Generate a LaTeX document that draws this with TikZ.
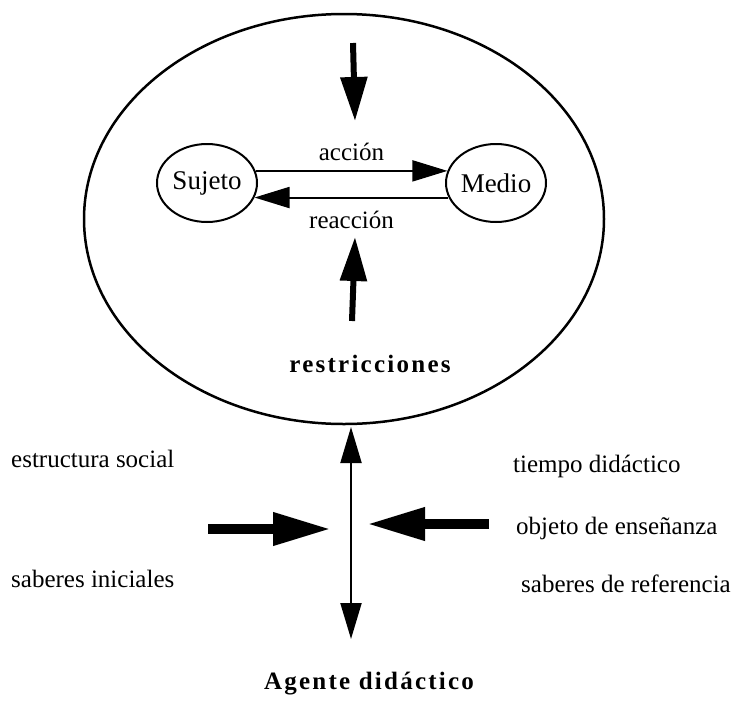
\documentclass[tikz,border=0pt]{standalone}
\usepackage{fontspec}
\setmainfont{Liberation Serif}
\usetikzlibrary{arrows.meta,shapes.geometric}

\begin{document}
\begin{tikzpicture}[x=1pt,y=-1pt,
                every node/.style={font=\fontsize{25}{30}\selectfont},
                caja/.style={ellipse,draw,line width=2pt,minimum width=100pt,minimum height=78pt,inner sep=0pt,font=\fontsize{27}{30}\selectfont},
                flecha/.style={line width=2pt,-{Triangle[length=35pt,width=21pt]}},
                gruesa/.style={line width=6pt,-{Triangle[length=44pt,width=26pt]}},
                lateral/.style={line width=10pt,-{Triangle[length=58pt,width=31pt]}},
                negrita/.style={font=\fontsize{25}{30}\selectfont\bfseries\addfontfeature{LetterSpace=9}}]
                \useasboundingbox (0,0) rectangle (734,702);
                \node [ellipse,draw,line width=2.5pt,minimum width=520pt,minimum height=410pt] (contexto) at (344,219) {};
                \node [caja] (sujeto) at (207,183) {Sujeto};
                \node [caja] (medio) at (496,183) {Medio};
                \draw [flecha] (sujeto.14) -- node [above=9pt,inner sep=0pt] (accion) {acción} (medio.166);
                \draw [flecha] (medio.197) -- node [below=13pt,inner sep=0pt] (reaccion) {reacción} (sujeto.-17);
                \coordinate (arriba1) at (353,43);
                \coordinate (arriba2) at (355,121);
                \coordinate (abajo1) at (352,321);
                \coordinate (abajo2) at (355,237);
                \draw [gruesa] (arriba1) -- (arriba2);
                \draw [gruesa] (abajo1) -- (abajo2);
                \node [negrita,anchor=base] (restricciones) at (370,372) {restricciones};
                \coordinate (eje1) at (351,427);
                \coordinate (eje2) at (351,639);
                \draw [line width=2pt,{Triangle[length=36pt,width=21pt]}-{Triangle[length=36pt,width=21pt]}] (eje1) -- (eje2);
                \coordinate (izq1) at (208,529);
                \coordinate (izq2) at (331,529);
                \coordinate (der1) at (489,524);
                \coordinate (der2) at (367,524);
                \draw [lateral] (izq1) -- (izq2);
                \draw [lateral] (der1) -- (der2);
                \node [anchor=base west,inner sep=0pt] (social) at (11,467) {estructura social};
                \node [anchor=base west,inner sep=0pt] (iniciales) at (11,587) {saberes iniciales};
                \node [anchor=base west,inner sep=0pt] (tiempo) at (513,472) {tiempo didáctico};
                \node [anchor=base west,inner sep=0pt] (objeto) at (516,534) {objeto de enseñanza};
                \node [anchor=base west,inner sep=0pt] (referencia) at (521,592) {saberes de referencia};
                \node [negrita,anchor=base] (agente) at (369,689) {Agente didáctico};
            \end{tikzpicture}
\end{document}
